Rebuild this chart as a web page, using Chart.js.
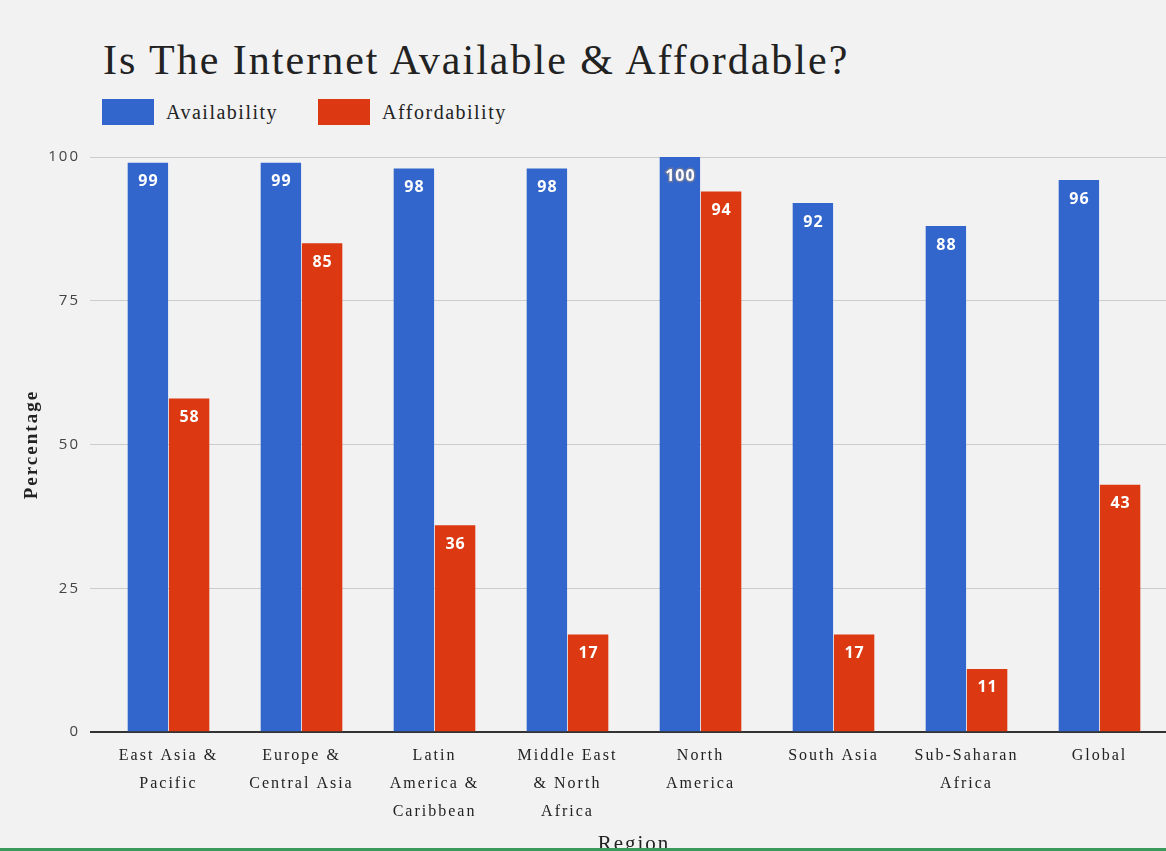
<!DOCTYPE html>
<html>
<head>
<meta charset="utf-8">
<script src="https://cdn.jsdelivr.net/npm/chart.js@4.4.1/dist/chart.umd.min.js"></script>
<style>
  html, body { margin: 0; padding: 0; background: #f2f2f2; overflow: hidden; }
  body { width: 1166px; height: 851px; position: relative; }
  #title {
    position: absolute; left: 103px; top: 39px; margin: 0;
    font-family: "Liberation Serif", serif; font-weight: normal;
    font-size: 42px; line-height: 1; color: #222; white-space: nowrap;
    letter-spacing: 2px;
  }
  #legend {
    position: absolute; left: 102px; top: 99px; display: flex; align-items: center;
    font-family: "Liberation Serif", serif; font-size: 20px; color: #222;
    letter-spacing: 1.5px;
  }
  .item { display: flex; align-items: center; margin-right: 40px; }
  .swatch { width: 52px; height: 26px; margin-right: 12px; }
  #wrap { position: absolute; left: 0; top: 0; width: 1166px; height: 857px; }
  #bottomline { position: absolute; left: 0; right: 0; top: 848px; height: 3px; background: #3a9a5c; }
</style>
</head>
<body>
<h1 id="title">Is The Internet Available &amp; Affordable?</h1>
<div id="legend"></div>
<div id="wrap"><canvas id="chart"></canvas></div>
<div id="bottomline"></div>
<script>
// Regions (multi-line tick labels)
const regions = [
  ["East Asia &", "Pacific"],
  ["Europe &", "Central Asia"],
  ["Latin", "America &", "Caribbean"],
  ["Middle East", "& North", "Africa"],
  ["North", "America"],
  ["South Asia"],
  ["Sub-Saharan", "Africa"],
  ["Global"]
];
// Percentages per region
const availability = [99, 99, 98, 98, 100, 92, 88, 96];
const affordability = [58, 85, 36, 17, 94, 17, 11, 43];
const yTicks = [0, 25, 50, 75, 100];

const BLUE = "#3366cc";
const RED = "#dc3912";

// Slightly open letter spacing for the axis text
const textSpacing = {
  id: "textSpacing",
  beforeDraw(chart) { chart.ctx.letterSpacing = "2px"; }
};

// Value labels drawn inside the top of each bar
const barValueLabels = {
  id: "barValueLabels",
  afterDatasetsDraw(chart) {
    const ctx = chart.ctx;
    ctx.save();
    ctx.letterSpacing = "1px";
    ctx.font = "bold 16px 'Open Sans', sans-serif";
    ctx.textAlign = "center";
    ctx.textBaseline = "middle";
    chart.data.datasets.forEach((ds, i) => {
      const meta = chart.getDatasetMeta(i);
      meta.data.forEach((bar, j) => {
        const v = ds.data[j];
        const x = bar.x + 0.5;
        const y = bar.y + 19;
        if (v >= 100) {
          ctx.lineWidth = 3;
          ctx.strokeStyle = "rgba(110,120,150,0.85)";
          ctx.strokeText(String(v), x, y);
        }
        ctx.fillStyle = "#ffffff";
        ctx.fillText(String(v), x, y);
      });
    });
    ctx.restore();
  }
};

const chart = new Chart(document.getElementById("chart"), {
  type: "bar",
  data: {
    labels: regions,
    datasets: [
      { label: "Availability", data: availability, backgroundColor: BLUE },
      { label: "Affordability", data: affordability, backgroundColor: RED }
    ]
  },
  options: {
    responsive: true,
    maintainAspectRatio: false,
    animation: false,
    layout: { padding: { top: 157, left: 0, right: 0, bottom: 0 } },
    datasets: { bar: { categoryPercentage: 0.62, barPercentage: 0.98 } },
    plugins: { legend: { display: false }, title: { display: false }, tooltip: { enabled: false } },
    scales: {
      x: {
        grid: { display: false, drawTicks: false },
        border: { display: true, color: "#333", width: 2 },
        ticks: {
          autoSkip: false, maxRotation: 0, padding: 10, color: "#222",
          font: { family: "'Liberation Serif', serif", size: 16, lineHeight: 1.75 }
        },
        title: {
          display: true, text: "Region", color: "#222",
          font: { family: "'Liberation Serif', serif", size: 21, lineHeight: 0.8 },
          padding: { top: 0, bottom: 4 }
        }
      },
      y: {
        min: 0, max: 100,
        afterBuildTicks(scale) { scale.ticks = yTicks.map(v => ({ value: v })); },
        afterFit(scale) { scale.width = 102; },
        grid: {
          color: c => (c.tick && c.tick.value === 0 ? "#333" : "#cccccc"),
          lineWidth: c => (c.tick && c.tick.value === 0 ? 2 : 1),
          tickLength: 12, drawTicks: true
        },
        border: { display: false },
        ticks: { padding: 10, color: "#444", font: { family: "'Open Sans', sans-serif", size: 15 } },
        title: {
          display: true, text: "Percentage", color: "#222",
          font: { family: "'Liberation Serif', serif", size: 19, weight: "bold" },
          padding: { top: 21, bottom: 0 }
        }
      }
    }
  },
  plugins: [textSpacing, barValueLabels]
});

// Legend entries built from the datasets
const legend = document.getElementById("legend");
chart.data.datasets.forEach(ds => {
  const item = document.createElement("div");
  item.className = "item";
  const sw = document.createElement("span");
  sw.className = "swatch";
  sw.style.background = ds.backgroundColor;
  const tx = document.createElement("span");
  tx.textContent = ds.label;
  item.appendChild(sw);
  item.appendChild(tx);
  legend.appendChild(item);
});
</script>
</body>
</html>
